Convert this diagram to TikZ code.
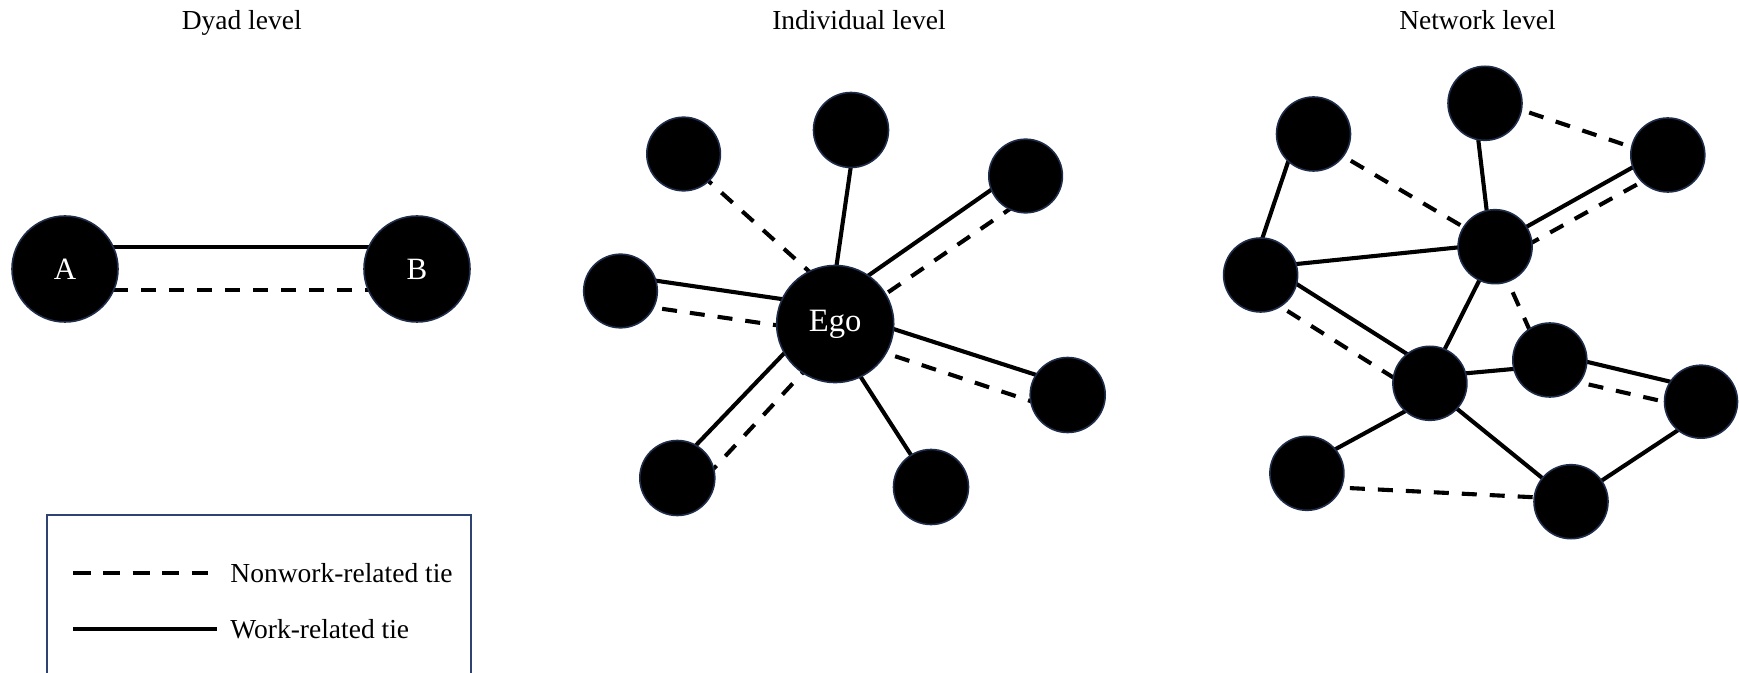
\documentclass[tikz,border=0pt]{standalone}
\usepackage{fontspec}
\setmainfont{Liberation Serif}
\usetikzlibrary{calc,backgrounds}
\definecolor{rim}{HTML}{1F2D4A}
\definecolor{boxrim}{HTML}{2E4372}
\begin{document}
\begin{tikzpicture}[x=0.5pt,y=-0.5pt,
  actor/.style={circle, fill=black, draw=rim, line width=0.8pt, inner sep=0pt,
    text=white, font=\fontsize{15.5}{18}\selectfont},
  tie/.style={line width=2.05pt, shorten <=-10pt, shorten >=-10pt},
  worktie/.style={tie},
  nonworktie/.style={tie, dash pattern=on 7.5pt off 6.5pt},
  legline/.style={line width=2pt},
  legdash/.style={legline, dash pattern=on 8.6pt off 6.2pt},
  title/.style={anchor=base, inner sep=0pt, font=\fontsize{13.75}{16}\selectfont},
  legtext/.style={anchor=base west, inner sep=0pt, font=\fontsize{13.75}{16}\selectfont}]
\useasboundingbox (0,0) rectangle (1739,673);

% titles
\node[title] (t1) at (241.7,30) {Dyad level};
\node[title] (t2) at (859,30) {Individual level};
\node[title] (t3) at (1477.5,30) {Network level};

% dyad
\node[actor, minimum size=53pt] (A) at (65,269) {A};
\node[actor, minimum size=53pt] (B) at (417,269) {B};

% individual
\node[actor, minimum size=58.5pt, font=\fontsize{16.3}{19}\selectfont] (ego) at (835.2,324) {Ego};
\node[actor, minimum size=36.8pt] (i1) at (683.6,154) {};
\node[actor, minimum size=37.5pt] (i2) at (851,130) {};
\node[actor, minimum size=36.8pt] (i3) at (1025.6,176) {};
\node[actor, minimum size=36.8pt] (i4) at (620.5,291) {};
\node[actor, minimum size=37.5pt] (i5) at (1067.7,395) {};
\node[actor, minimum size=37.5pt] (i6) at (677.3,478) {};
\node[actor, minimum size=37.5pt] (i7) at (931,487) {};

% network
\node[actor, minimum size=37pt] (n1) at (1313.5,134) {};
\node[actor, minimum size=37pt] (n2) at (1485,103.3) {};
\node[actor, minimum size=37pt] (n3) at (1667.8,155) {};
\node[actor, minimum size=37pt] (n4) at (1260.6,275) {};
\node[actor, minimum size=37pt] (n5) at (1495.1,246.7) {};
\node[actor, minimum size=37pt] (n6) at (1549.8,360) {};
\node[actor, minimum size=37pt] (n7) at (1429.9,383.3) {};
\node[actor, minimum size=36.5pt] (n8) at (1701,401.7) {};
\node[actor, minimum size=37pt] (n9) at (1306.9,473.3) {};
\node[actor, minimum size=37pt] (n10) at (1571,501.7) {};

\begin{scope}[on background layer]
% dyad ties
\draw[worktie] ($(A)+(0,-22)$) -- ($(B)+(0,-22)$);
\draw[nonworktie] ($(A)+(40,21)$) -- ($(B)+(0,21)$);
% individual ties
\draw[nonworktie] ($(i1)+(31.9,33.3)$) -- ($(ego)+(-26.6,-53)$);
\draw[worktie] ($(i2)+(-0.3,37.3)$) -- ($(ego)+(1.4,-59)$);
\draw[worktie] ($(i3)+(-34.7,14)$) -- ($(ego)+(35.8,-50.3)$);
\draw[nonworktie] ($(i3)+(-26,40)$) -- ($(ego)+(52.3,-31.3)$);
\draw[worktie] ($(i4)+(35.5,-10.3)$) -- ($(ego)+(-51.9,-24.7)$);
\draw[nonworktie] ($(i4)+(33.7,16.7)$) -- ($(ego)+(-58.2,1.3)$);
\draw[worktie] ($(ego)+(59.2,5.3)$) -- ($(i5)+(-31.3,-20)$);
\draw[nonworktie] ($(ego)+(52.3,29.7)$) -- ($(i5)+(-38.2,5.7)$);
\draw[worktie] ($(ego)+(26,53.7)$) -- ($(i7)+(-18.9,-30.3)$);
\draw[worktie] ($(ego)+(-50.5,28.7)$) -- ($(i6)+(18.9,-33)$);
\draw[nonworktie] ($(ego)+(-37.1,53.7)$) -- ($(i6)+(38.2,-11.3)$);
% network ties
\draw[worktie] ($(n1)+(-25,26.7)$) -- ($(n4)+(1.7,-36.7)$);
\draw[nonworktie] ($(n1)+(30.4,22.7)$) -- ($(n5)+(-35,-21.7)$);
\draw[worktie] ($(n2)+(-6.7,36.7)$) -- ($(n5)+(-8.4,-36)$);
\draw[nonworktie] ($(n2)+(36.6,6.7)$) -- ($(n3)+(-35.6,-7.7)$);
\draw[worktie] ($(n3)+(-34,11.7)$) -- ($(n5)+(31.6,-20)$);
\draw[nonworktie] ($(n3)+(-24,25.7)$) -- ($(n5)+(36.6,-4)$);
\draw[worktie] ($(n4)+(36,-11)$) -- ($(n5)+(-36,0.6)$);
\draw[worktie] ($(n4)+(36,9)$) -- ($(n7)+(-21.3,-28.3)$);
\draw[nonworktie] ($(n4)+(20,31.7)$) -- ($(n7)+(-40.6,-8.3)$);
\draw[worktie] ($(n5)+(-16,34)$) -- ($(n7)+(14.4,-33.3)$);
\draw[nonworktie] ($(n5)+(14.3,38.3)$) -- ($(n6)+(-21.7,-33.3)$);
\draw[worktie] ($(n7)+(36,-10)$) -- ($(n6)+(-36.7,9)$);
\draw[worktie] ($(n6)+(36.6,1.7)$) -- ($(n8)+(-30.7,-20)$);
\draw[nonworktie] ($(n6)+(31,22.7)$) -- ($(n8)+(-36.7,0)$);
\draw[worktie] ($(n7)+(-25.6,28.4)$) -- ($(n9)+(28.3,-24)$);
\draw[worktie] ($(n7)+(27.7,26)$) -- ($(n10)+(-28.4,-23.4)$);
\draw[worktie] ($(n8)+(-21.7,27.6)$) -- ($(n10)+(31.6,-21.7)$);
\draw[nonworktie] ($(n9)+(35,14.4)$) -- ($(n10)+(-48.4,-5)$);
\end{scope}

% legend
\coordinate (bl) at (47,673);
\coordinate (tl) at (47,515);
\coordinate (tr) at (471,515);
\coordinate (br) at (471,673);
\draw[boxrim, line width=1pt] (bl) -- (tl) -- (tr) -- (br);
\coordinate (d1) at (73.3,573.3);
\coordinate (d2) at (208,573.3);
\coordinate (s1) at (73.3,629.3);
\coordinate (s2) at (216.7,629.3);
\draw[legdash] (d1) -- (d2);
\draw[legline] (s1) -- (s2);
\node[legtext] (l1) at (230,582) {Nonwork-related tie};
\node[legtext] (l2) at (230,638) {Work-related tie};
\end{tikzpicture}
\end{document}
